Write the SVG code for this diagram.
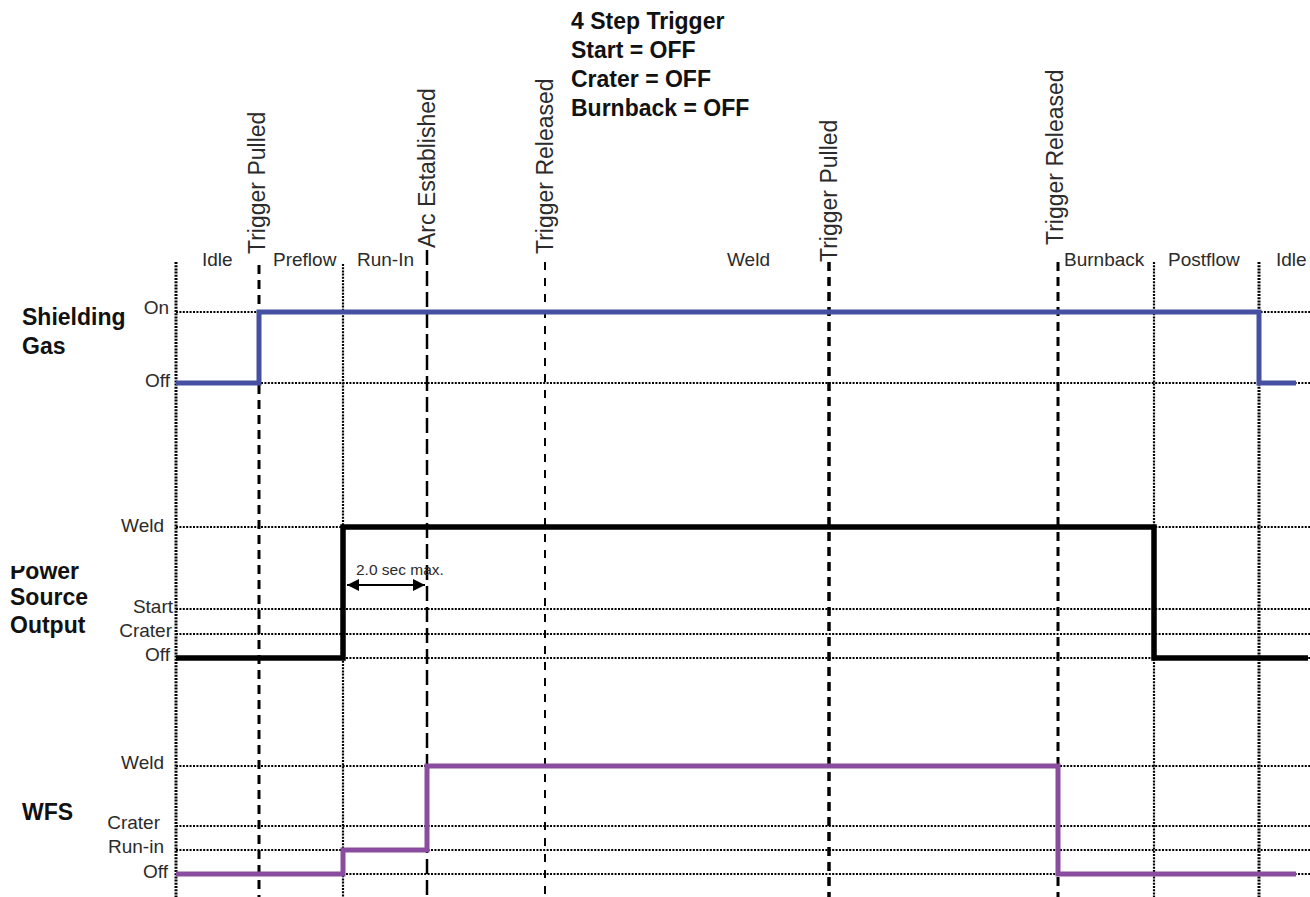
<svg xmlns="http://www.w3.org/2000/svg" width="1310" height="897" viewBox="0 0 1310 897">
<style>
.t{font-family:"Liberation Sans",Arial,sans-serif;fill:#2b2b2b}
.lv{font-size:19px;text-anchor:end}
.ph{font-size:19px}
.rot{font-size:23px}
.b{font-family:"Liberation Sans",Arial,sans-serif;font-weight:bold;fill:#111;font-size:23px}
.hd{stroke:#000;stroke-width:2;stroke-dasharray:2 1.4;fill:none}
.vd{stroke:#000;fill:none;stroke-dasharray:2 1.2}
.vdash{stroke:#000;fill:none}
</style>
<defs>
<marker id="ah" viewBox="0 0 12 12" refX="12" refY="6" markerWidth="12" markerHeight="12" markerUnits="userSpaceOnUse" orient="auto-start-reverse">
<path d="M0,0 L12,6 L0,12 z" fill="#000"/>
</marker>
<clipPath id="pclip"><rect x="0" y="566" width="200" height="40"/></clipPath>
</defs>
<rect width="1310" height="897" fill="#fff"/>

<g id="grid">
<line class="hd" x1="176" y1="312" x2="1310" y2="312"/>
<line class="hd" x1="176" y1="383" x2="1310" y2="383"/>
<line class="hd" x1="176" y1="527" x2="1310" y2="527"/>
<line class="hd" x1="176" y1="609" x2="1310" y2="609"/>
<line class="hd" x1="176" y1="634" x2="1310" y2="634"/>
<line class="hd" x1="176" y1="658" x2="1310" y2="658"/>
<line class="hd" x1="176" y1="766" x2="1310" y2="766"/>
<line class="hd" x1="176" y1="826" x2="1310" y2="826"/>
<line class="hd" x1="176" y1="850" x2="1310" y2="850"/>
<line class="hd" x1="176" y1="874" x2="1310" y2="874"/>
<line class="vd" x1="176" y1="262" x2="176" y2="897" stroke-width="3"/>
<line class="vd" x1="343" y1="264" x2="343" y2="897" stroke-width="2.2"/>
<line class="vd" x1="1154" y1="262" x2="1154" y2="897" stroke-width="2.2"/>
<line class="vd" x1="1259" y1="262" x2="1259" y2="897" stroke-width="3"/>
<line class="vdash" x1="259" y1="265" x2="259" y2="897" stroke-width="3" stroke-dasharray="9 6"/>
<line class="vdash" x1="427" y1="250" x2="427" y2="897" stroke-width="2.5" stroke-dasharray="15 6"/>
<line class="vdash" x1="545" y1="262" x2="545" y2="897" stroke-width="2" stroke-dasharray="8 8"/>
<line class="vdash" x1="829" y1="262" x2="829" y2="897" stroke-width="3.5" stroke-dasharray="9 6"/>
<line class="vdash" x1="1058" y1="262" x2="1058" y2="897" stroke-width="3" stroke-dasharray="9 6"/>
</g>

<g id="title">
<text class="b" x="571" y="29">4 Step Trigger</text>
<text class="b" x="571" y="58">Start = OFF</text>
<text class="b" x="571" y="87">Crater = OFF</text>
<text class="b" x="571" y="116">Burnback = OFF</text>
</g>

<g id="event-labels">
<text class="t rot" transform="translate(265,254) rotate(-90)">Trigger Pulled</text>
<text class="t rot" transform="translate(435,248) rotate(-90)">Arc Established</text>
<text class="t rot" transform="translate(553,254) rotate(-90)">Trigger Released</text>
<text class="t rot" transform="translate(837,262) rotate(-90)">Trigger Pulled</text>
<text class="t rot" transform="translate(1063,245) rotate(-90)">Trigger Released</text>
</g>

<g id="phase-labels">
<text class="t ph" x="202" y="266">Idle</text>
<text class="t ph" x="273" y="266">Preflow</text>
<text class="t ph" x="357" y="266">Run-In</text>
<text class="t ph" x="727" y="266">Weld</text>
<text class="t ph" x="1064" y="266">Burnback</text>
<text class="t ph" x="1168" y="266">Postflow</text>
<text class="t ph" x="1276" y="266">Idle</text>
</g>

<g id="shielding-gas">
<text class="b" x="22" y="325">Shielding</text>
<text class="b" x="22" y="354">Gas</text>
<text class="t lv" x="169" y="314">On</text>
<text class="t lv" x="170" y="387">Off</text>
<polyline points="176,383 259,383 259,312 1259,312 1259,383 1296,383" fill="none" stroke="#4650a2" stroke-width="5"/>
</g>

<g id="power-source">
<text class="b" x="10" y="579" clip-path="url(#pclip)">Power</text>
<text class="b" x="10" y="605">Source</text>
<text class="b" x="10" y="633">Output</text>
<text class="t lv" x="164" y="532">Weld</text>
<text class="t lv" x="173" y="613">Start</text>
<text class="t lv" x="172" y="637">Crater</text>
<text class="t lv" x="170" y="661">Off</text>
<polyline points="176,658 343,658 343,527 1154,527 1154,658 1308,658" fill="none" stroke="#000" stroke-width="5.5"/>
</g>

<g id="wfs">
<text class="b" x="22" y="820">WFS</text>
<text class="t lv" x="164" y="769">Weld</text>
<text class="t lv" x="160" y="829">Crater</text>
<text class="t lv" x="164" y="853">Run-in</text>
<text class="t lv" x="168" y="878">Off</text>
<polyline points="176,874 343,874 343,850 427,850 427,766 1058,766 1058,874 1296,874" fill="none" stroke="#8a4c9e" stroke-width="5"/>
</g>

<g id="connectors">
<line x1="347" y1="585" x2="425" y2="585" stroke="#000" stroke-width="2" marker-start="url(#ah)" marker-end="url(#ah)"/>
<text class="t" x="356" y="575" font-size="15.5">2.0 sec max.</text>
</g>
</svg>
